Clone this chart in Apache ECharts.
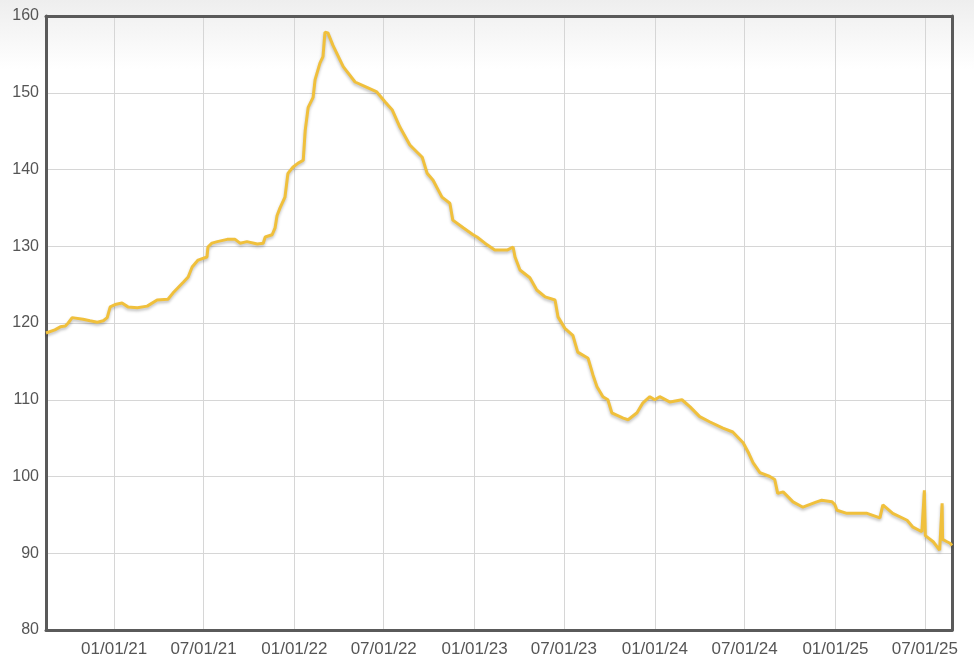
<!DOCTYPE html>
<html>
<head>
<meta charset="utf-8">
<script src="https://cdn.jsdelivr.net/npm/echarts@6/dist/echarts.min.js"></script>
<style>
html,body{margin:0;padding:0;width:974px;height:672px;overflow:hidden;background:linear-gradient(#eeeeee 0px,#ffffff 70px);}
#chart{width:974px;height:672px;}
</style>
</head>
<body>
<div id="chart"></div>
<script>
const dates = [
'2020-08-16','2020-09-03','2020-09-14','2020-09-24','2020-09-30','2020-10-08','2020-10-30','2020-11-13','2020-11-28','2020-12-10','2020-12-18','2020-12-24',
'2021-01-03','2021-01-17','2021-01-29','2021-02-17','2021-03-09','2021-03-29','2021-04-20','2021-04-30','2021-05-21','2021-05-31','2021-06-08','2021-06-20',
'2021-07-08','2021-07-10','2021-07-18','2021-07-29','2021-08-18','2021-09-03','2021-09-13','2021-09-27','2021-10-18','2021-10-30','2021-11-03','2021-11-17',
'2021-11-23','2021-11-27','2021-12-03','2021-12-13','2021-12-19','2021-12-29','2022-01-08','2022-01-19','2022-01-23','2022-01-29','2022-02-08','2022-02-12',
'2022-02-22','2022-02-28','2022-03-04','2022-03-10','2022-03-20','2022-04-10','2022-05-04','2022-05-28','2022-06-17','2022-07-04','2022-07-18','2022-08-03',
'2022-08-23','2022-09-17','2022-09-27','2022-10-09','2022-10-27','2022-11-12','2022-11-18','2022-12-09','2022-12-29','2023-01-06','2023-01-22','2023-02-11',
'2023-03-08','2023-03-20','2023-03-24','2023-04-03','2023-04-23','2023-05-07','2023-05-24','2023-06-13','2023-06-19','2023-07-03','2023-07-19','2023-07-29',
'2023-08-19','2023-08-29','2023-09-06','2023-09-18','2023-09-28','2023-10-06','2023-10-29','2023-11-08','2023-11-26','2023-12-08','2023-12-22','2024-01-01',
'2024-01-11','2024-02-01','2024-02-25','2024-03-12','2024-04-01','2024-04-22','2024-05-18','2024-06-07','2024-06-28','2024-07-08','2024-07-18','2024-08-01',
'2024-08-21','2024-08-31','2024-09-06','2024-09-17','2024-10-07','2024-10-27','2024-11-24','2024-12-04','2024-12-25','2024-12-31','2025-01-04','2025-01-24',
'2025-03-06','2025-04-01','2025-04-07','2025-04-27','2025-05-26','2025-06-07','2025-06-25','2025-06-29','2025-06-30','2025-07-02','2025-07-06','2025-07-18',
'2025-07-31','2025-08-04','2025-08-05','2025-08-06','2025-08-15','2025-08-21','2025-08-25'
];
const values = [
118.7,119.1,119.5,119.6,120.0,120.7,120.5,120.3,120.1,120.3,120.7,122.1,
122.4,122.6,122.1,122.0,122.2,123.0,123.1,123.9,125.3,126.0,127.3,128.2,
128.6,129.9,130.4,130.6,130.9,130.9,130.4,130.6,130.3,130.4,131.2,131.5,
132.4,134.0,135.0,136.4,139.5,140.3,140.8,141.2,145.1,148.1,149.4,151.7,
153.9,154.7,157.9,157.8,156.2,153.4,151.4,150.7,150.1,148.8,147.8,145.5,
143.2,141.6,139.5,138.6,136.4,135.6,133.4,132.4,131.5,131.2,130.4,129.5,
129.5,129.9,128.6,126.9,125.9,124.3,123.4,123.0,120.8,119.3,118.4,116.2,
115.4,113.2,111.7,110.4,110.0,108.3,107.6,107.4,108.3,109.6,110.4,110.0,
110.4,109.7,110.0,109.1,107.8,107.1,106.3,105.8,104.4,103.2,101.8,100.5,
100.0,99.6,97.8,98.0,96.7,96.0,96.7,96.9,96.7,96.3,95.6,95.2,
95.2,94.6,96.3,95.2,94.3,93.4,92.8,92.7,98.2,92.3,92.1,91.5,
90.4,90.6,96.5,91.8,91.5,91.3,91.0
];
const xMin = '2020-08-16';
const xMax = '2025-08-25';
const yMin = 80, yMax = 160, yStep = 10;

const seriesData = dates.map((d, i) => [d, values[i]]);
const DAY = 24 * 3600 * 1000;
const FONT = 'Liberation Sans, Arial, sans-serif';
const frameLine = {show: true, onZero: false, lineStyle: {color: '#5a5a5a', width: 3}};

const chart = echarts.init(document.getElementById('chart'), null, {renderer: 'canvas'});
chart.setOption({
  animation: false,
  backgroundColor: 'transparent',
  grid: {left: 46, right: 22, top: 16, bottom: 42, show: false},
  xAxis: [{
    type: 'time',
    min: xMin, max: xMax,
    minInterval: 180 * DAY, maxInterval: 186 * DAY,
    axisLine: frameLine,
    axisTick: {show: false},
    splitLine: {show: true, lineStyle: {color: '#d6d6d6', width: 1}},
    axisLabel: {
      color: '#555', fontSize: 17, fontFamily: FONT, margin: 11,
      showMinLabel: false, showMaxLabel: false,
      formatter: function (v) {
        const d = new Date(v);
        const mm = String(d.getMonth() + 1).padStart(2, '0');
        const dd = String(d.getDate()).padStart(2, '0');
        const yy = String(d.getFullYear()).slice(2);
        return mm + '/' + dd + '/' + yy;
      }
    }
  }, {
    type: 'time', position: 'top', min: xMin, max: xMax,
    axisLine: frameLine, axisTick: {show: false}, axisLabel: {show: false}, splitLine: {show: false}
  }],
  yAxis: [{
    type: 'value', min: yMin, max: yMax, interval: yStep,
    axisLine: frameLine,
    axisTick: {show: false},
    splitLine: {show: true, lineStyle: {color: '#d6d6d6', width: 1}},
    axisLabel: {color: '#555', fontSize: 16, fontFamily: FONT, margin: 7}
  }, {
    type: 'value', position: 'right', min: yMin, max: yMax, interval: yStep,
    axisLine: frameLine, axisTick: {show: false}, axisLabel: {show: false}, splitLine: {show: false}
  }],
  series: [{
    type: 'line',
    data: seriesData,
    showSymbol: false,
    lineStyle: {color: '#f0c03c', width: 3, shadowColor: 'rgba(0,0,0,0.25)', shadowBlur: 3, shadowOffsetY: 2},
    itemStyle: {color: '#f0c03c'}
  }]
});
</script>
</body>
</html>
